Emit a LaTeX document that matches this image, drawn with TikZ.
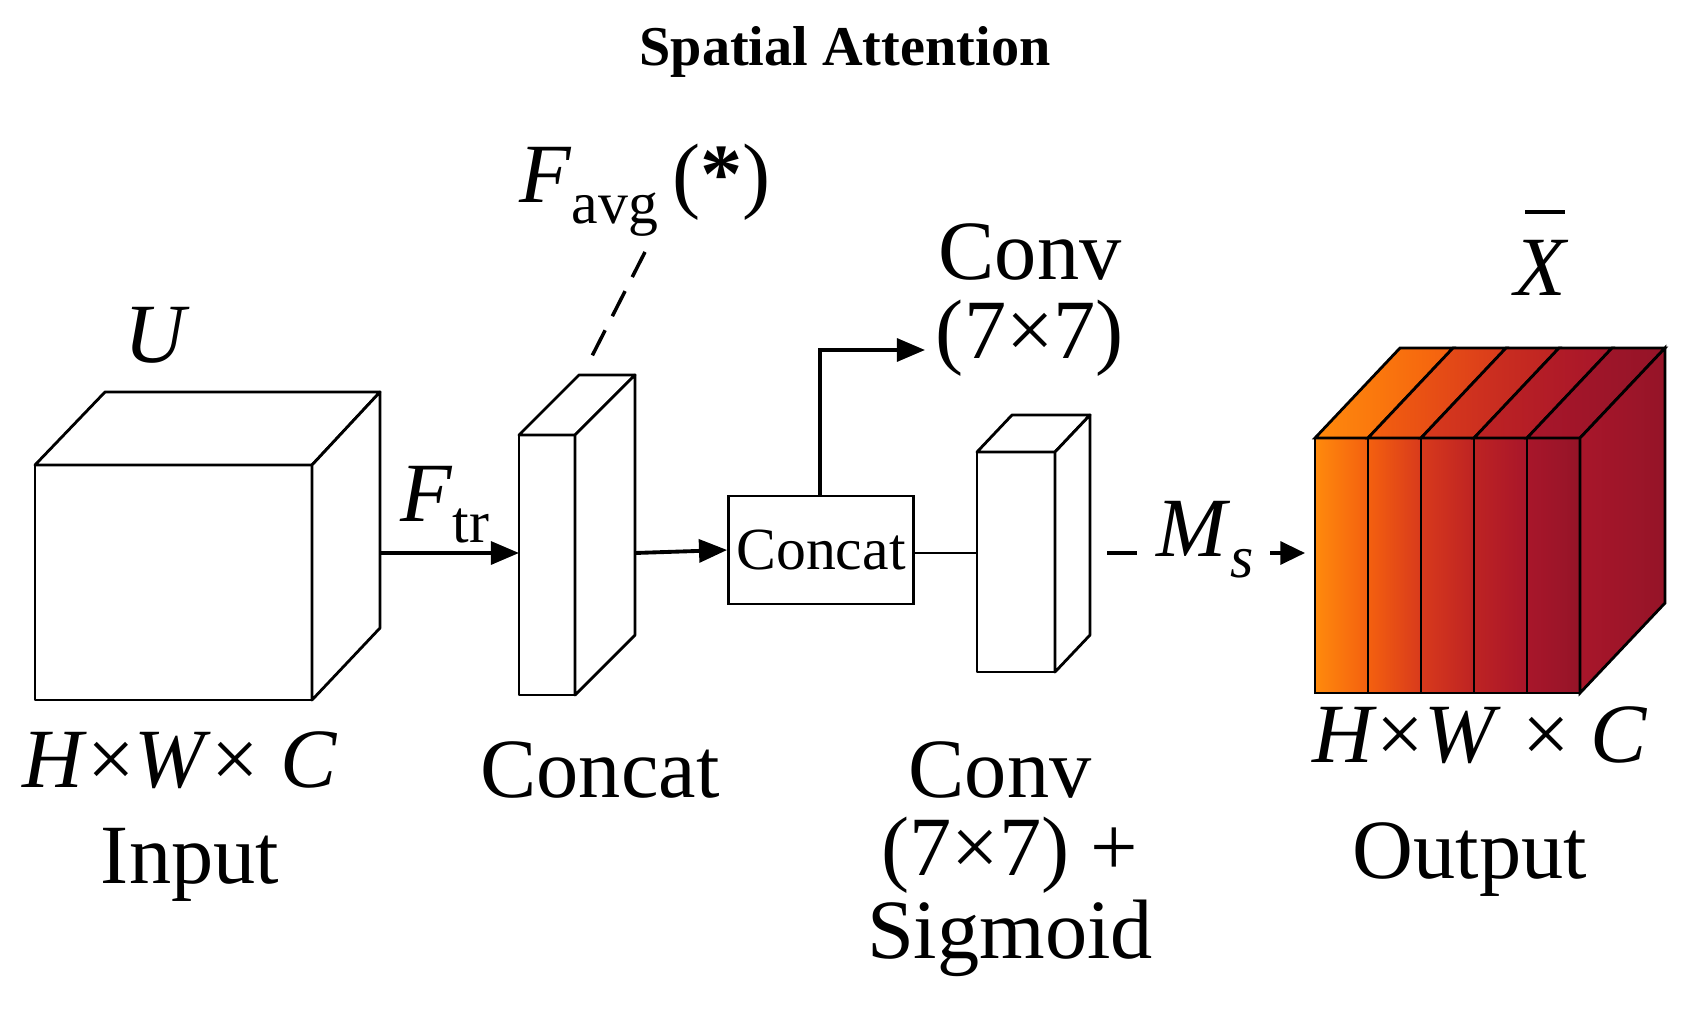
\documentclass[tikz,border=0pt]{standalone}
\usepackage{fontspec}
\setmainfont{Liberation Serif}
\usetikzlibrary{arrows.meta}
\newcommand{\sbs}[1]{\raisebox{-0.25em}{\fontsize{34}{40}\selectfont #1}}
\begin{document}
\begin{tikzpicture}[x=0.02cm,y=-0.02cm,
  box/.style={draw,line width=1.6pt,fill=white,line join=round},
  arr/.style={line width=2.2pt,-{Triangle[length=16pt,width=13pt]}},
  lbl/.style={font=\fontsize{48}{56}\selectfont,inner sep=0},
  ]
\useasboundingbox (0,0) rectangle (1689,1013);
\definecolor{c1}{HTML}{FF8A0C}\definecolor{c2}{HTML}{F4600F}\definecolor{c3}{HTML}{D83A1C}
\definecolor{c4}{HTML}{BE2323}\definecolor{c5}{HTML}{A8162A}\definecolor{c6}{HTML}{951428}
\node[font=\fontsize{32}{38}\selectfont\bfseries] (title) at (845,52) {Spatial Attention};
% input cube
\draw[box] (35,465) rectangle (312,700);
\draw[box] (35,465) -- (105,392) -- (380,392) -- (312,465) -- cycle;
\draw[box] (312,465) -- (380,392) -- (380,628) -- (312,700) -- cycle;
\coordinate (inR) at (380,553);
\node[lbl] (U) at (155,335) {\itshape U};
\node[lbl] (hw1) at (180,760) {\textit{H}×\textit{W}× \textit{C}};
\node[lbl] (inp) at (190,865) {Input};
% concat slab
\draw[box] (519,435) rectangle (575,695);
\draw[box] (519,435) -- (579,375) -- (635,375) -- (575,435) -- cycle;
\draw[box] (575,435) -- (635,375) -- (635,635) -- (575,695) -- cycle;
\coordinate (slL) at (519,553); \coordinate (slR) at (635,553);
\draw[arr] (inR) -- (slL);
\node[lbl] (ftr) at (445,505) {\textit{F}\sbs{tr}};
\node[lbl] (cl) at (600,770) {Concat};
\node[lbl] (favg) at (645,190) {\textit{F}\sbs{avg}\,(\textbf{*})};
\coordinate (dtop) at (645,252); \coordinate (dbot) at (590,360);
\draw[line width=2pt,dash pattern=on 16pt off 9pt] (dtop) -- (dbot);
% concat box
\node[draw,line width=1.6pt,font=\fontsize{34}{40}\selectfont,
  minimum width=3.7cm,minimum height=2.16cm,inner sep=0] (cc) at (821,550) {Concat};
\draw[arr] (slR) -- (cc.west);
\coordinate (up) at (820,350);
\node[lbl] (conv1) at (1030,252) {Conv};
\node[lbl] (conv1b) at (1030,338) {(7×7)};
\draw[arr] (cc.north -| up) -- (up) -- (925,350);
% conv slab
\draw[box] (977,452) rectangle (1055,672);
\draw[box] (977,452) -- (1012,415) -- (1090,415) -- (1055,452) -- cycle;
\draw[box] (1055,452) -- (1090,415) -- (1090,635) -- (1055,672) -- cycle;
\coordinate (cvL) at (977,553);
\draw[line width=1.6pt] (cc.east |- cvL) -- (cvL);
\node[lbl] (c2a) at (1000,770) {Conv};
\node[lbl] (c2b) at (1010,855) {(7×7) +};
\node[lbl] (c2c) at (1010,938) {Sigmoid};
% Ms
\coordinate (d1) at (1107,553); \coordinate (d2) at (1137,553);
\draw[line width=2pt] (d1) -- (d2);
\node[lbl] (ms) at (1205,540) {\textit{M}\sbs{\textit{s}}};
\coordinate (a1) at (1270,553); \coordinate (a2) at (1305,553);
\draw[line width=2pt,-{Triangle[length=14pt,width=13pt]}] (a1) -- (a2);
% output cube
\foreach \i/\c/\d in {0/c1/c2,1/c2/c3,2/c3/c4,3/c4/c5,4/c5/c6}{
  \pgfmathsetmacro\xa{1315+53*\i}\pgfmathsetmacro\xb{1368+53*\i}
  \draw[line width=1.6pt,left color=\c,right color=\d] (\xa,438) rectangle (\xb,693);
  \draw[line width=1.6pt,left color=\c,right color=\d] (\xa,438) -- (\xa+85,348) -- (\xb+85,348) -- (\xb,438) -- cycle;
}
\draw[line width=1.6pt,left color=c5,right color=c6] (1580,438) -- (1665,348) -- (1665,603) -- (1580,693) -- cycle;
\node[lbl] (xb) at (1540,268) {\itshape X};
\draw[line width=2pt] (1525,212) -- (1565,212);
\node[lbl] (hw2) at (1480,735) {\textit{H}×\textit{W} × \textit{C}};
\node[lbl] (out) at (1470,860) {Output};
\end{tikzpicture}
\end{document}
